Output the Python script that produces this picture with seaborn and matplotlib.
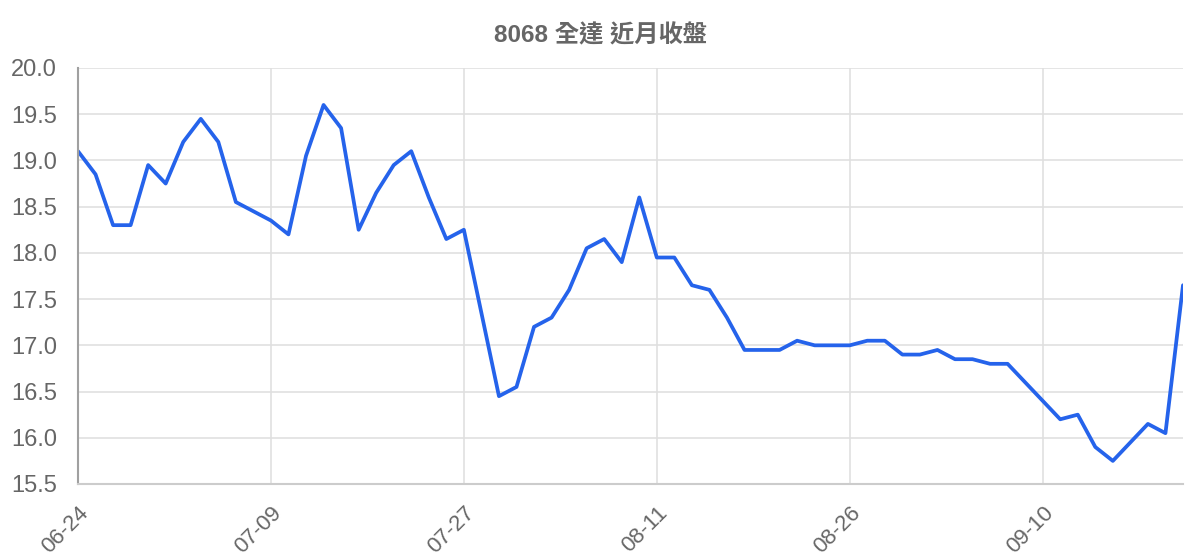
import matplotlib
matplotlib.use('Agg')
import matplotlib.pyplot as plt
import pandas as pd
import seaborn as sns

# closing prices, one per trading day
closes = [19.1, 18.85, 18.3, 18.3, 18.95, 18.75, 19.2, 19.45, 19.2, 18.55,
          18.45, 18.35, 18.2, 19.05, 19.6, 19.35, 18.25, 18.65, 18.95, 19.1,
          18.6, 18.15, 18.25, 17.35, 16.45, 16.55, 17.2, 17.3, 17.6, 18.05,
          18.15, 17.9, 18.6, 17.95, 17.95, 17.65, 17.6, 17.3, 16.95, 16.95,
          16.95, 17.05, 17.0, 17.0, 17.0, 17.05, 17.05, 16.9, 16.9, 16.95,
          16.85, 16.85, 16.8, 16.8, 16.6, 16.4, 16.2, 16.25, 15.9, 15.75,
          15.95, 16.15, 16.05, 17.65]
tick_labels = ['06-24', '07-09', '07-27', '08-11', '08-26', '09-10']
tick_every = 11
y_ticks = [15.5, 16.0, 16.5, 17.0, 17.5, 18.0, 18.5, 19.0, 19.5, 20.0]
title = '8068 全達 近月收盤'

df = pd.DataFrame({'day': range(len(closes)), 'close': closes})

sns.set_style('white')
plt.rcParams['font.family'] = ['Liberation Sans', 'Noto Sans CJK TC', 'DejaVu Sans']

grid_c = '#e0e0e0'
text_c = '#666666'

fig = plt.figure(figsize=(12, 5.6), dpi=100)
ax = fig.add_axes([78 / 1200, 1 - 484 / 560, (1183 - 78) / 1200, (484 - 68) / 560])

sns.lineplot(data=df, x='day', y='close', ax=ax, color='#2563eb', linewidth=2.7)

ax.set_xlim(0, len(closes) - 1)
ax.set_ylim(y_ticks[0], y_ticks[-1])
ax.set_xticks(range(0, len(closes), tick_every))
ax.set_xticklabels(tick_labels, rotation=45, ha='right', rotation_mode='anchor')
ax.set_yticks(y_ticks)
ax.set_yticklabels([f'{v:.1f}' for v in y_ticks])

ax.grid(True, color=grid_c, linewidth=1.2)
ax.set_axisbelow(True)
ax.tick_params(axis='both', width=1.2, color=grid_c, labelcolor=text_c)
ax.tick_params(axis='y', labelsize=17, length=14, pad=1)
ax.tick_params(axis='x', labelsize=16, length=13, pad=0.5)

for s in ['top', 'right']:
    ax.spines[s].set_visible(False)
ax.spines['left'].set_color('#a0a0a0')
ax.spines['left'].set_linewidth(1.5)
ax.spines['bottom'].set_color('#cccccc')
ax.spines['bottom'].set_linewidth(1.5)

ax.set_xlabel('')
ax.set_ylabel('')
fig.text(0.5, 1 - 36 / 560, title, ha='center', va='center',
         fontsize=17.5, fontweight='bold', color=text_c)

fig.savefig('out.png', dpi=100)
